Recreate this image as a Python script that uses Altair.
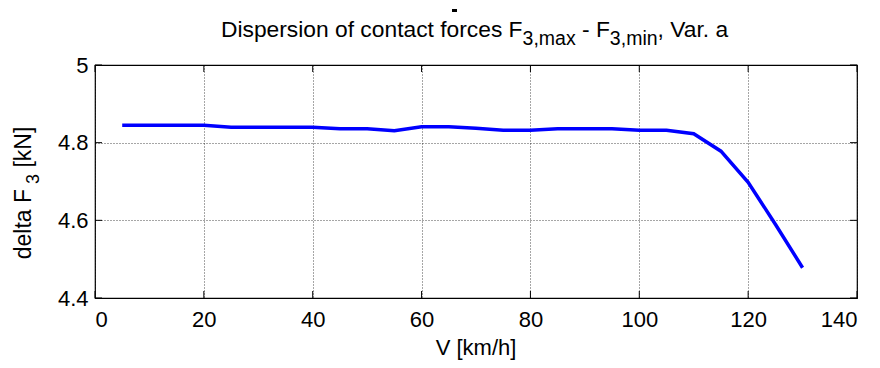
import altair as alt
import pandas as pd

# ---- data ----
speed = [5, 10, 15, 20, 25, 30, 35, 40, 45, 50, 55, 60, 65, 70, 75, 80, 85, 90,
         95, 100, 105, 110, 115, 120, 125, 130]
delta_f3 = [4.845, 4.845, 4.845, 4.845, 4.840, 4.840, 4.840, 4.840, 4.836, 4.836,
            4.831, 4.841, 4.841, 4.837, 4.832, 4.832, 4.836, 4.836, 4.836, 4.832,
            4.832, 4.823, 4.778, 4.698, 4.590, 4.478]
x_ticks = [0, 20, 40, 60, 80, 100, 120, 140]
y_ticks = [4.4, 4.6, 4.8, 5.0]

title_main_1 = "Dispersion of contact forces F"
title_sub_1 = "3,max"
title_main_2 = " - F"
title_sub_2 = "3,min"
title_main_3 = ", Var. a"
ylab_main_1 = "delta F"
ylab_sub = "3"
ylab_main_2 = " [kN]"
xlab = "V [km/h]"

# ---- layout ----
W, H = 762, 233
FONT = "Liberation Sans"
TICK_FS = 22
T_FS, T_SUB = 22.8, 19.5
Y_FS, Y_SUB = 23, 18

ARIAL = {" ": 278, ",": 278, "-": 333, ".": 278, "[": 278, "]": 278, "/": 278,
         "3": 556, "D": 722, "F": 611, "V": 667, "N": 722, "a": 556, "c": 500,
         "d": 556, "e": 556, "f": 278, "h": 556, "i": 222, "k": 500, "l": 222,
         "m": 833, "n": 556, "o": 556, "p": 556, "r": 333, "s": 500, "t": 278,
         "x": 500}


def tw(s, fs):
    return sum(ARIAL.get(c, 556) for c in s) * fs / 1000.0


df = pd.DataFrame({"V": speed, "dF3": delta_f3})
xt = pd.DataFrame({"t": x_ticks})
yt = pd.DataFrame({"t": y_ticks})
one = pd.DataFrame({"a": [0]})
one_b = pd.DataFrame({"b": [1]})

xs = alt.Scale(domain=[0, 140], nice=False, zero=False)
ys = alt.Scale(domain=[4.4, 5.0], nice=False, zero=False)

grid_kw = dict(grid=True, gridDash=[1, 2], gridColor="#000000", gridOpacity=0.7,
               gridWidth=1, ticks=False, tickSize=0, domain=False, title=None,
               labelFont=FONT, labelFontSize=TICK_FS, labelColor="#000000")

x_axis = alt.Axis(values=x_ticks, labelPadding=11, format="d", **grid_kw)
y_axis = alt.Axis(values=y_ticks, labelPadding=7, format="~g", **grid_kw)

line = alt.Chart(df).mark_line(color="#0000FF", strokeWidth=3.5).encode(
    x=alt.X("V:Q", scale=xs, axis=x_axis),
    y=alt.Y("dF3:Q", scale=ys, axis=y_axis),
)

TL = 7
tick_b = alt.Chart(xt).mark_rule(color="black", strokeWidth=1).encode(
    x=alt.X("t:Q", scale=xs, axis=x_axis), y=alt.value(H), y2=alt.value(H - TL))
tick_t = alt.Chart(xt).mark_rule(color="black", strokeWidth=1).encode(
    x=alt.X("t:Q", scale=xs, axis=x_axis), y=alt.value(0), y2=alt.value(TL))
tick_l = alt.Chart(yt).mark_rule(color="black", strokeWidth=1).encode(
    y=alt.Y("t:Q", scale=ys, axis=y_axis), x=alt.value(0), x2=alt.value(TL))
tick_r = alt.Chart(yt).mark_rule(color="black", strokeWidth=1).encode(
    y=alt.Y("t:Q", scale=ys, axis=y_axis), x=alt.value(W), x2=alt.value(W - TL))


def txt(s, x, y, fs, angle=0, align="left", baseline="alphabetic"):
    kw = dict(font=FONT, fontSize=fs, color="black", align=align, baseline=baseline)
    if angle:
        kw["angle"] = angle
    return alt.Chart(one).mark_text(**kw).encode(
        x=alt.value(x), y=alt.value(y), text=alt.value(s))


# two small dash remnants visible above the title (drawn first)
dash1 = alt.Chart(one_b).mark_rect(color="black").encode(
    x=alt.value(357), x2=alt.value(362), y=alt.value(-56), y2=alt.value(-53))
dash2 = alt.Chart(one).mark_rect(color="black").encode(
    x=alt.value(416), x2=alt.value(420), y=alt.value(-59), y2=alt.value(-57))

parts = [dash1, dash2]

# title pieces (leading spaces become offsets)
tx = 126
tb_main, tb_sub = -28, -20
for s, fs, b in [(title_main_1, T_FS, tb_main), (title_sub_1, T_SUB, tb_sub),
                 (title_main_2, T_FS, tb_main), (title_sub_2, T_SUB, tb_sub),
                 (title_main_3, T_FS, tb_main)]:
    lead = len(s) - len(s.lstrip(" "))
    parts.append(txt(s.lstrip(" "), tx + tw(" " * lead, fs), b, fs))
    tx += tw(s, fs)

# y label pieces (rotated, reading upward)
SUB_GAP = 5
ylen = tw(ylab_main_1, Y_FS) + SUB_GAP + tw(ylab_sub, Y_SUB) + tw(ylab_main_2, Y_FS)
yy = 128 + ylen / 2
for s, fs, xb, pre in [(ylab_main_1, Y_FS, -64, 0), (ylab_sub, Y_SUB, -56, SUB_GAP),
                       (ylab_main_2, Y_FS, -64, 0)]:
    yy -= pre
    lead = len(s) - len(s.lstrip(" "))
    parts.append(txt(s.lstrip(" "), xb, yy - tw(" " * lead, fs), fs, angle=270))
    yy -= tw(s, fs)

parts.append(txt(xlab, W / 2, H + 57, TICK_FS, align="center"))

chart = alt.layer(line, tick_b, tick_t, tick_l, tick_r, *parts).properties(
    width=W, height=H,
    autosize=alt.AutoSizeParams(type="none"),
    padding={"left": 87, "top": 57, "right": 15, "bottom": 62},
    background="white",
).configure_view(stroke="black", strokeWidth=1.2)

chart.save("out.html", embed_options={"renderer": "svg", "actions": False})
